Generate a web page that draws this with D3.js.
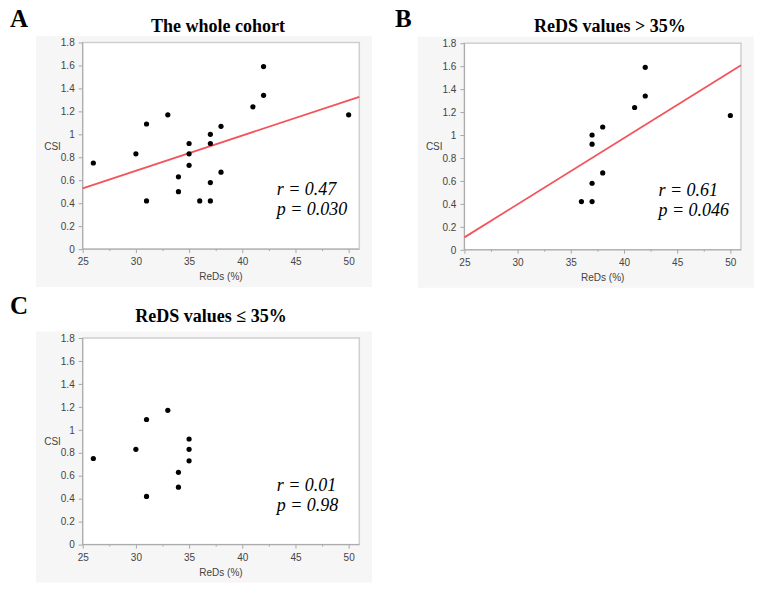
<!DOCTYPE html>
<html>
<head>
<meta charset="utf-8">
<script src="https://cdn.jsdelivr.net/npm/d3@7"></script>
<style>
  body { margin: 0; background: #fff; }
  .tick text { font-family: "Liberation Sans", Arial, sans-serif; font-size: 10px; fill: #444; }
  .axis path, .axis line { stroke: #a8a8a8; }
</style>
</head>
<body>
<div id="chart"></div>
<script>
// ReDs (%) and CSI for every patient of the cohort
const reds = [26, 30, 31, 31, 33, 34, 34, 35, 35, 35, 36, 37, 37, 37, 37, 38, 38, 41, 42, 42, 50];
const csi  = [0.75, 0.83, 1.09, 0.42, 1.17, 0.63, 0.50, 0.92, 0.83, 0.73, 0.42, 1.00, 0.92, 0.58, 0.42, 1.07, 0.67, 1.24, 1.59, 1.34, 1.17];

const panelLetters = ["A", "B", "C"];
const panelTitles = ["The whole cohort", "ReDS values > 35%", "ReDS values \u2264 35%"];
const rTexts = ["r = 0.47", "r = 0.61", "r = 0.01"];
const pTexts = ["p = 0.030", "p = 0.046", "p = 0.98"];
const showFit = [true, true, false];

const xTicks = [25, 30, 35, 40, 45, 50];
const xMinor = [27.5, 32.5, 37.5, 42.5, 47.5];
const yTicks = [0, 0.2, 0.4, 0.6, 0.8, 1, 1.2, 1.4, 1.6, 1.8];

const all = reds.map((r, i) => ({ x: r, y: csi[i] }));
const subsets = [all, all.filter(d => d.x > 35), all.filter(d => d.x <= 35)];

// where each panel sits on the page
const layout = [
  { bx: 36, by: 36, letterX: 10, letterY: 27, titleX: 218, titleY: 31.5 },
  { bx: 417.7, by: 36.7, letterX: 395, letterY: 27, titleX: 610, titleY: 31.5 },
  { bx: 36, by: 331.5, letterX: 10, letterY: 314, titleX: 211, titleY: 321.5 }
];

const boxW = 336, boxH = 251;
const inset = { left: 46.7, top: 6.5 };
const plotW = 276.6, plotH = 206.6;

const svg = d3.select("#chart").append("svg")
  .attr("width", 764)
  .attr("height", 592);

function fitLine(pts) {
  const mx = d3.mean(pts, d => d.x), my = d3.mean(pts, d => d.y);
  let sxy = 0, sxx = 0;
  pts.forEach(d => { sxy += (d.x - mx) * (d.y - my); sxx += (d.x - mx) * (d.x - mx); });
  const b = sxy / sxx;
  return x => my + b * (x - mx);
}

layout.forEach((L, i) => {
  // letter + title
  svg.append("text")
    .attr("x", L.letterX).attr("y", L.letterY)
    .attr("font-family", "Liberation Serif, Times New Roman, serif")
    .attr("font-weight", "bold").attr("font-size", 25)
    .text(panelLetters[i]);
  svg.append("text")
    .attr("x", L.titleX).attr("y", L.titleY)
    .attr("text-anchor", "middle")
    .attr("font-family", "Liberation Serif, Times New Roman, serif")
    .attr("font-weight", "bold").attr("font-size", 18)
    .text(panelTitles[i]);

  // grey background
  svg.append("rect")
    .attr("x", L.bx).attr("y", L.by)
    .attr("width", boxW).attr("height", boxH)
    .attr("fill", "#f6f6f6");

  const g = svg.append("g")
    .attr("transform", `translate(${L.bx + inset.left},${L.by + inset.top})`);

  const x = d3.scaleLinear().domain([25, 51]).range([0, plotW]);
  const y = d3.scaleLinear().domain([0, 1.8]).range([plotH, 0]);

  g.append("rect")
    .attr("width", plotW).attr("height", plotH)
    .attr("fill", "#fff")
    .attr("stroke", "#cfcfcf").attr("stroke-width", 1.5);

  g.append("g").attr("class", "axis")
    .attr("transform", `translate(0,${plotH})`)
    .call(d3.axisBottom(x).tickValues(xTicks).tickSize(4).tickPadding(5).tickFormat(d3.format("d")))
    .call(a => a.select(".domain").attr("d", `M0,0H${plotW}`));
  g.append("g").attr("class", "axis")
    .attr("transform", `translate(0,${plotH})`)
    .call(d3.axisBottom(x).tickValues(xMinor).tickSize(2).tickFormat(""))
    .call(a => a.select(".domain").remove());

  g.append("g").attr("class", "axis")
    .call(d3.axisLeft(y).tickValues(yTicks).tickSize(4).tickPadding(4).tickFormat(d3.format("~g")))
    .call(a => a.select(".domain").attr("d", `M0,0V${plotH}`));

  // axis titles
  g.append("text")
    .attr("x", plotW / 2).attr("y", plotH + 31)
    .attr("text-anchor", "middle")
    .attr("font-family", "Liberation Sans, Arial, sans-serif")
    .attr("font-size", 10).attr("fill", "#444")
    .text("ReDs (%)");
  g.append("text")
    .attr("x", -38.5).attr("y", plotH / 2 + 4)
    .attr("font-family", "Liberation Sans, Arial, sans-serif")
    .attr("font-size", 10).attr("fill", "#444")
    .text("CSI");

  // regression line
  if (showFit[i]) {
    const f = fitLine(subsets[i]);
    const xs = x.domain();
    g.append("line")
      .attr("x1", x(xs[0])).attr("y1", y(f(xs[0])))
      .attr("x2", x(xs[1])).attr("y2", y(f(xs[1])))
      .attr("stroke", "#f2545b").attr("stroke-width", 1.8);
  }

  // points
  g.selectAll(".dot")
    .data(subsets[i])
    .enter().append("circle")
    .attr("class", "dot")
    .attr("cx", d => x(d.x))
    .attr("cy", d => y(d.y))
    .attr("r", 2.6)
    .attr("fill", "#000");

  // r / p
  const st = g.append("text")
    .attr("font-family", "Liberation Serif, Times New Roman, serif")
    .attr("font-style", "italic").attr("font-size", 18);
  st.append("tspan").attr("x", 194).attr("y", 152.5).text(rTexts[i]);
  st.append("tspan").attr("x", 194).attr("y", 172.5).text(pTexts[i]);
});
</script>
</body>
</html>
